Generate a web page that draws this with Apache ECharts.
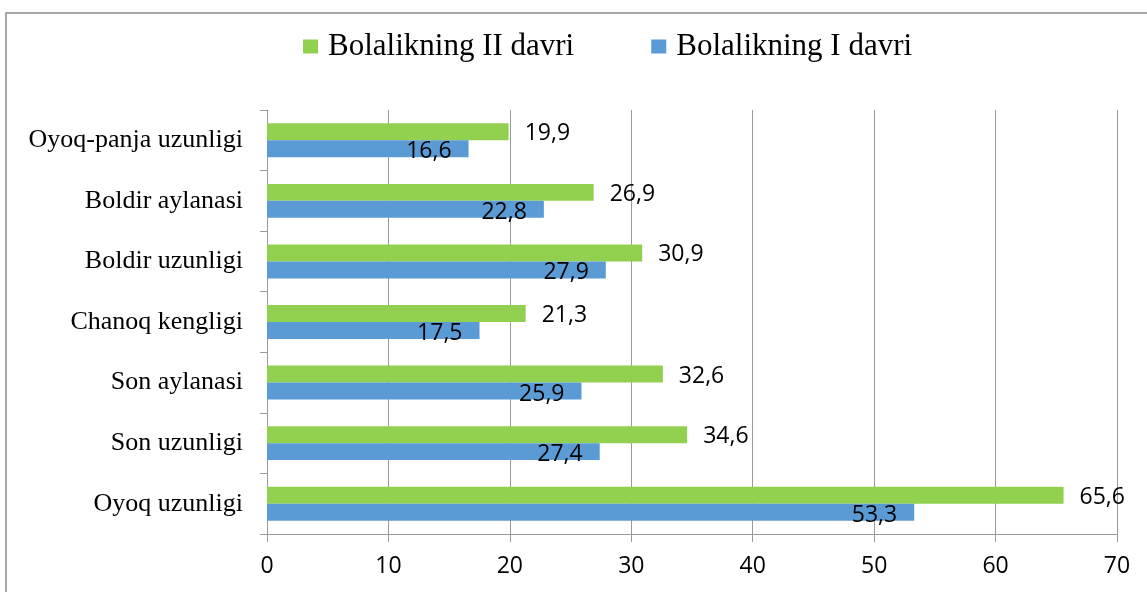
<!DOCTYPE html>
<html>
<head>
<meta charset="utf-8">
<script src="https://cdn.jsdelivr.net/npm/echarts@6/dist/echarts.min.js"></script>
<style>
  html, body { margin: 0; padding: 0; background: #fff; }
  #main { width: 1147px; height: 592px; }
</style>
</head>
<body>
<div id="main"></div>
<script>
// categories listed bottom to top, as on the y axis
var categories = ['Oyoq uzunligi', 'Son uzunligi', 'Son aylanasi', 'Chanoq kengligi',
    'Boldir uzunligi', 'Boldir aylanasi', 'Oyoq-panja uzunligi'];
var davr2 = [65.6, 34.6, 32.6, 21.3, 30.9, 26.9, 19.9];
var davr1 = [53.3, 27.4, 25.9, 17.5, 27.9, 22.8, 16.6];
var seriesNames = ['Bolalikning II davri', 'Bolalikning I davri'];
var xTicks = [0, 10, 20, 30, 40, 50, 60, 70];

var green = '#92D050';
var blue = '#5B9BD5';
var gray = '#9a9a9a';

function comma(v) {
    return String(v).replace('.', ',');
}

var chart = echarts.init(document.getElementById('main'));
var option = {
    animation: false,
    backgroundColor: '#fff',
    graphic: [{
        type: 'rect',
        shape: { x: 6, y: 13, width: 1200, height: 700 },
        style: { fill: 'none', stroke: '#8c8c8c', lineWidth: 1.5 },
        silent: true
    }],
    legend: {
        left: 298,
        top: 26,
        itemWidth: 15,
        itemHeight: 14,
        itemGap: 77,
        icon: 'rect',
        data: seriesNames,
        textStyle: {
            fontFamily: 'Liberation Serif',
            fontSize: 31,
            color: '#000',
            padding: [0, 0, 0, 5]
        }
    },
    grid: {
        left: 267,
        right: 30,
        top: 110,
        bottom: 58,
        containLabel: false,
        outerBoundsMode: 'none'
    },
    xAxis: {
        type: 'value',
        min: xTicks[0],
        max: xTicks[xTicks.length - 1],
        interval: 10,
        axisLine: { show: true, lineStyle: { color: gray, width: 1 } },
        axisTick: { show: true, length: 8, lineStyle: { color: gray } },
        splitLine: { show: true, lineStyle: { color: gray, width: 1 } },
        axisLabel: {
            margin: 21,
            fontFamily: 'Open Sans',
            fontSize: 23,
            color: '#000'
        }
    },
    yAxis: {
        type: 'category',
        data: categories,
        axisLine: { show: true, lineStyle: { color: gray, width: 1 } },
        axisTick: { show: true, length: 7, lineStyle: { color: gray } },
        axisLabel: {
            margin: 24,
            fontFamily: 'Liberation Serif',
            fontSize: 26,
            color: '#000'
        }
    },
    series: [
        {
            name: seriesNames[0],
            type: 'bar',
            data: davr2,
            barGap: '0%',
            barCategoryGap: '44%',
            itemStyle: { color: green },
            label: {
                show: true,
                position: 'right',
                distance: 16,
                offset: [0, 2],
                fontFamily: 'Open Sans',
                fontSize: 23,
                color: '#000',
                formatter: function (p) { return comma(p.value); }
            }
        },
        {
            name: seriesNames[1],
            type: 'bar',
            data: davr1,
            barGap: '0%',
            barCategoryGap: '44%',
            itemStyle: { color: blue },
            label: {
                show: true,
                position: 'insideRight',
                distance: 17,
                offset: [0, 3],
                fontFamily: 'Open Sans',
                fontSize: 23,
                color: '#000',
                formatter: function (p) { return comma(p.value); }
            }
        }
    ]
};
chart.setOption(option);
</script>
</body>
</html>
